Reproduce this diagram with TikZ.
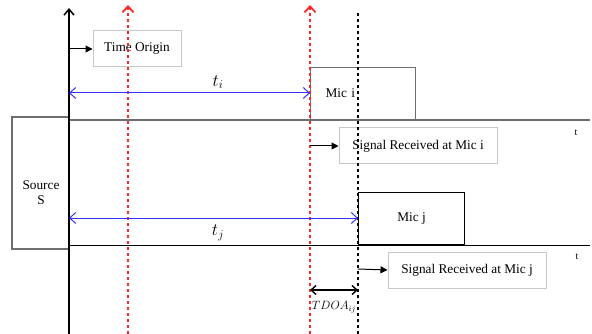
\documentclass[tikz,border=0pt]{standalone}
\usepackage{fontspec}
\setmainfont{Liberation Serif}
\usetikzlibrary{arrows.meta}
\definecolor{myred}{RGB}{250,40,40}
\definecolor{myblue}{RGB}{50,50,250}
\definecolor{boxgray}{RGB}{200,200,200}
\definecolor{linegray}{RGB}{110,110,110}
\begin{document}
\begin{tikzpicture}[x=1pt,y=-1pt,
  txt/.style={font=\fontsize{13.3}{15}\selectfont},
  lblbox/.style={draw=boxgray, line width=1pt, txt, inner sep=0pt, minimum height=36pt},
  micbox/.style={draw=linegray, line width=1.2pt, txt, inner sep=0pt, minimum height=52pt, anchor=south west},
  reddot/.style={draw=myred, line width=1.8pt, dash pattern=on 3pt off 3pt, -{Straight Barb[length=6pt,width=11pt]}},
  blackdot/.style={draw=black, line width=1.6pt, dash pattern=on 3pt off 3pt},
  bluearr/.style={draw=myblue, line width=1pt, {Straight Barb[length=6pt,width=11pt]}-{Straight Barb[length=6pt,width=11pt]}},
  smallarr/.style={draw=black, line width=1pt, -{Triangle[length=7pt,width=7pt]}},
  baseline/.style={line width=1.2pt},
  tlabel/.style={font=\fontsize{10}{11}\selectfont}
]
\useasboundingbox (0,0) rectangle (592,334);

% coordinates
\coordinate (axbot) at (69,334);
\coordinate (axtop) at (69,8);
\coordinate (r1bot) at (128,334);
\coordinate (r1top) at (128,5);
\coordinate (r2bot) at (310,334);
\coordinate (r2top) at (310,5);
\coordinate (kbot) at (358,334);
\coordinate (ktop) at (358,12);
\coordinate (b1s) at (69,120);
\coordinate (b1e) at (590,120);
\coordinate (b2s) at (69,245);
\coordinate (b2e) at (590,245);
\coordinate (tos) at (69,49);
\coordinate (sis) at (310,146);
\coordinate (sjs) at (358,269);
\coordinate (tis) at (69,93);
\coordinate (tie) at (310,93);
\coordinate (tjs) at (69,218);
\coordinate (tje) at (358,218);
\coordinate (das) at (310,290);
\coordinate (dae) at (358,290);

% source box
\node (source) [draw=linegray, line width=1.2pt, minimum width=57pt, minimum height=132pt, inner sep=0pt] at (40.5,183) {};
\node (srclabel) [txt, align=center, inner sep=0pt] at (41,193) {Source\\S};

% baselines
\draw[baseline, draw=linegray] (b1s) -- (b1e);
\draw[baseline, draw=black, line width=1pt] (b2s) -- (b2e);
\node (t1) [tlabel] at (576,133) {t};
\node (t2) [tlabel] at (577,257) {t};

% mic boxes
\node (mici) [micbox, minimum width=105pt, text width=95pt, align=left] at (310,120) {\hspace*{10pt}Mic i};
\node (micj) [micbox, draw=black, minimum width=106pt, align=center] at (358,245) {Mic j};

% label boxes
\node (timeorigin) [lblbox, minimum width=88pt] at (137,49) {Time Origin};
\node (sigi) [lblbox, minimum width=158pt] at (418,146) {Signal Received at Mic i};
\node (sigj) [lblbox, minimum width=158pt] at (467,270) {Signal Received at Mic j};

% dotted verticals
\draw[reddot] (r1bot) -- (r1top);
\draw[reddot] (r2bot) -- (r2top);
\draw[blackdot] (kbot) -- (ktop);

% main axis
\draw[line width=1.5pt, -{Straight Barb[length=6pt,width=10pt]}] (axbot) -- (axtop);

% small arrows
\draw[smallarr] (tos) -- (timeorigin.west);
\draw[smallarr] (sis) -- (sigi.west);
\draw[smallarr] (sjs) -- (sigj.west);

% blue arrows
\draw[bluearr] (tis) -- (tie);
\node (tilabel) [font=\fontsize{17}{19}\selectfont] at (218,82) {$t_i$};
\draw[bluearr] (tjs) -- (tje);
\node (tjlabel) [font=\fontsize{17}{19}\selectfont] at (218,233) {$t_j$};

% TDOA
\draw[line width=1.4pt, {Straight Barb[length=5pt,width=9pt]}-{Straight Barb[length=5pt,width=9pt]}] (das) -- (dae);
\node (tdoa) [font=\fontsize{12}{14}\selectfont] at (334,307) {$TDOA_{ij}$};
\end{tikzpicture}
\end{document}
